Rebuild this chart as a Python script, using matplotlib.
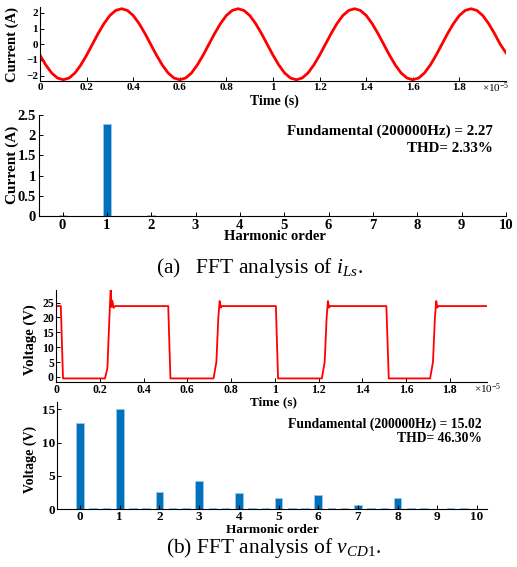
import numpy as np
import matplotlib
matplotlib.use("Agg")
import matplotlib.pyplot as plt

plt.rcParams["font.family"] = ["Liberation Serif", "DejaVu Serif"]
plt.rcParams["font.weight"] = "bold"
plt.rcParams["mathtext.fontset"] = "custom"
plt.rcParams["mathtext.rm"] = "Liberation Serif:weight=normal"
plt.rcParams["mathtext.it"] = "Liberation Serif:style=italic:weight=normal"
plt.rcParams["mathtext.bf"] = "Liberation Serif:weight=bold"

# ── Data ──────────────────────────────────────────────────────────────────────

# inductor current i_Ls, sampled every 0.025 x 1e-5 s (4 periods of 200 kHz)
cur_dt = 0.025
cur_vals = [
    -0.70, -1.33, -1.84, -2.16, -2.27, -2.16, -1.84, -1.33, -0.70, 0.00,
    0.70, 1.33, 1.84, 2.16, 2.27, 2.16, 1.84, 1.33, 0.70, 0.00,
    -0.70, -1.33, -1.84, -2.16, -2.27, -2.16, -1.84, -1.33, -0.70, 0.00,
    0.70, 1.33, 1.84, 2.16, 2.27, 2.16, 1.84, 1.33, 0.70, 0.00,
    -0.70, -1.33, -1.84, -2.16, -2.27, -2.16, -1.84, -1.33, -0.70, 0.00,
    0.70, 1.33, 1.84, 2.16, 2.27, 2.16, 1.84, 1.33, 0.70, 0.00,
    -0.70, -1.33, -1.84, -2.16, -2.27, -2.16, -1.84, -1.33, -0.70, 0.00,
    0.70, 1.33, 1.84, 2.16, 2.27, 2.16, 1.84, 1.33, 0.70, 0.00,
    -0.55,
]

# switch voltage v_CD1 corner points, time in units of 1e-5 s
volt_t = [0.000, 0.022, 0.032,
          0.224, 0.235, 0.243, 0.250, 0.254, 0.258, 0.263, 0.270,
          0.513, 0.523,
          0.720, 0.733, 0.742, 0.748, 0.753, 0.758,
          1.005, 1.015,
          1.215, 1.228, 1.237, 1.243, 1.248, 1.253,
          1.510, 1.521,
          1.710, 1.723, 1.732, 1.738, 1.743, 1.748,
          1.970]
volt_v = [23.8, 23.8, -0.5,
          -0.5, 3.0, 18.0, 30.0, 23.5, 25.5, 23.2, 23.8,
          23.8, -0.5,
          -0.5, 5.0, 20.0, 25.5, 23.3, 23.8,
          23.8, -0.5,
          -0.5, 5.0, 20.0, 25.5, 23.3, 23.8,
          23.8, -0.5,
          -0.5, 5.0, 20.0, 25.5, 23.3, 23.8,
          23.8]

# FFT spectra, bins every 1/3 harmonic order
harm_order = [i / 3 for i in range(30)]
cur_fft = [0.02, 0.003, 0.003, 2.27, 0.003, 0.003, 0.015, 0.003, 0.003, 0.003,
           0.003, 0.003, 0.003, 0.003, 0.003, 0.003, 0.003, 0.003, 0.003, 0.003,
           0.003, 0.003, 0.003, 0.003, 0.003, 0.003, 0.003, 0.003, 0.003, 0.003]
volt_fft = [12.9, 0.15, 0.15, 15.02, 0.12, 0.12, 2.6, 0.15, 0.15, 4.23,
            0.12, 0.12, 2.42, 0.15, 0.15, 1.71, 0.12, 0.12, 2.1, 0.12,
            0.12, 0.6, 0.12, 0.12, 1.62, 0.15, 0.15, 0.05, 0.12, 0.12]

time_ticks = [0, 0.2, 0.4, 0.6, 0.8, 1, 1.2, 1.4, 1.6, 1.8]
harm_ticks = list(range(11))

# ── Layout helpers ────────────────────────────────────────────────────────────

W, H = 517, 567
RED = "#FF0000"
BLUE = "#0072BD"
EDGE = "#9cc8ea"


def rect(l, t, r, b):
    return [l / W, 1 - b / H, (r - l) / W, (b - t) / H]


def px_text(fig, x, y, s, **kw):
    fig.text(x / W, 1 - y / H, s, **kw)


def style(ax, tick_size, pad=2):
    for side in ("top", "right"):
        ax.spines[side].set_visible(False)
    for side in ("left", "bottom"):
        ax.spines[side].set_linewidth(0.8)
    ax.tick_params(direction="in", length=3, width=0.7, labelsize=tick_size, pad=pad)


fig = plt.figure(figsize=(W / 100, H / 100), dpi=100)

# (a) current waveform
ax1 = fig.add_axes(rect(40, 7, 506, 81))
t_cur = np.arange(len(cur_vals)) * cur_dt
ax1.plot(t_cur, cur_vals, color=RED, lw=2.0)
ax1.set_xlim(0, 2.0)
ax1.set_ylim(-2.35, 2.38)
ax1.set_xticks(time_ticks)
ax1.set_xticklabels([f"{v:g}" for v in time_ticks])
ax1.set_yticks([-2, -1, 0, 1, 2])
style(ax1, 8, pad=1.5)
px_text(fig, 12, 44, "Current (A)", rotation=90, ha="center", va="center", fontsize=10.5)
px_text(fig, 274, 101, "Time (s)", ha="center", va="center", fontsize=10)
px_text(fig, 509, 88, r"$\times10^{-5}$", ha="right", va="center", fontsize=8)

# (a) current spectrum
ax2 = fig.add_axes(rect(39, 115, 506, 216))
ax2.bar(harm_order, cur_fft, width=0.17, color=BLUE, edgecolor=EDGE, linewidth=0.6)
ax2.set_xlim(-0.53, 10)
ax2.set_ylim(0, 2.5)
ax2.set_xticks(harm_ticks)
ax2.set_yticks([0, 0.5, 1, 1.5, 2, 2.5])
ax2.set_yticklabels(["0", "0.5", "1", "1.5", "2", "2.5"])
style(ax2, 10.5)
px_text(fig, 12, 165, "Current (A)", rotation=90, ha="center", va="center", fontsize=11)
px_text(fig, 275, 237, "Harmonic order", ha="center", va="center", fontsize=10.5)
px_text(fig, 493, 131, "Fundamental (200000Hz) = 2.27", ha="right", va="center", fontsize=10.8)
px_text(fig, 493, 149, "THD= 2.33%", ha="right", va="center", fontsize=10.8)

px_text(fig, 259, 268, r"(a)   FFT analysis of $i_{Ls}$.", ha="center", va="center",
        fontsize=15.5, fontweight="normal")

# (b) voltage waveform
ax3 = fig.add_axes(rect(56, 290, 487, 382))
ax3.plot(volt_t, volt_v, color=RED, lw=1.3)
ax3.set_xlim(0, 1.97)
ax3.set_ylim(-1.7, 29.2)
ax3.set_xticks(time_ticks)
ax3.set_xticklabels([f"{v:g}" for v in time_ticks])
ax3.set_yticks([0, 5, 10, 15, 20, 25])
style(ax3, 8.5, pad=1.5)
px_text(fig, 30, 340, "Voltage (V)", rotation=90, ha="center", va="center", fontsize=10.5)
px_text(fig, 274, 402, "Time (s)", ha="center", va="center", fontsize=9.5)
px_text(fig, 501, 389, r"$\times10^{-5}$", ha="right", va="center", fontsize=8)

# (b) voltage spectrum
ax4 = fig.add_axes(rect(57, 402, 487, 509))
ax4.bar(harm_order, volt_fft, width=0.19, color=BLUE, edgecolor=EDGE, linewidth=0.6)
ax4.set_xlim(-0.58, 10.25)
ax4.set_ylim(0, 16.1)
ax4.set_xticks(harm_ticks)
ax4.set_yticks([0, 5, 10, 15])
style(ax4, 9.5, pad=1.5)
px_text(fig, 30, 459, "Voltage (V)", rotation=90, ha="center", va="center", fontsize=10)
px_text(fig, 272, 530, "Harmonic order", ha="center", va="center", fontsize=9.5)
px_text(fig, 482, 424, "Fundamental (200000Hz) = 15.02", ha="right", va="center", fontsize=9.8)
px_text(fig, 482, 439, "THD= 46.30%", ha="right", va="center", fontsize=9.8)

px_text(fig, 274, 548, r"(b) FFT analysis of $v_{CD1}$.", ha="center", va="center",
        fontsize=15.5, fontweight="normal")

fig.savefig("out.png", dpi=100)
